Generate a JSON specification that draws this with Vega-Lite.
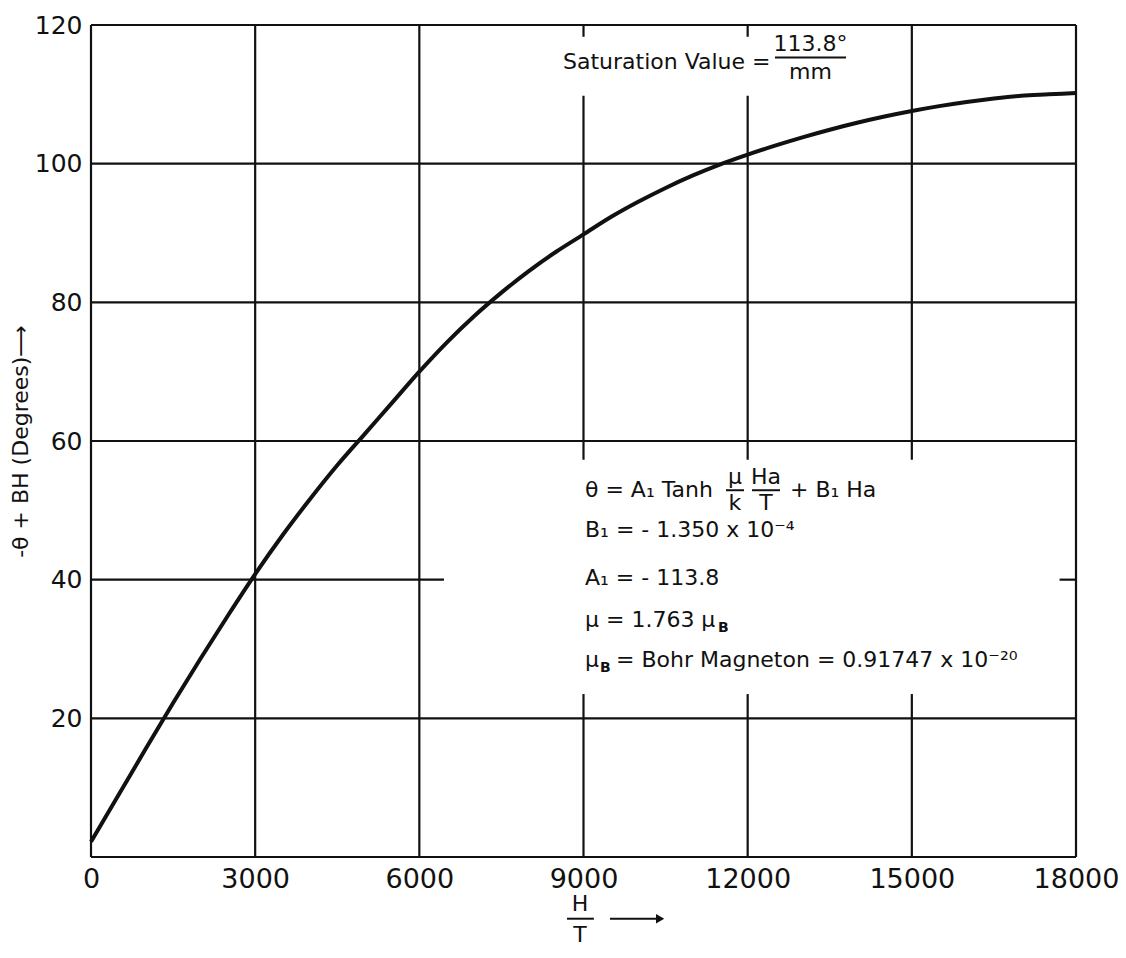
{
  "$schema": "https://vega.github.io/schema/vega-lite/v6.json",
  "width": 985,
  "height": 832,
  "autosize": {"type": "none"},
  "padding": {"left": 91, "top": 25, "right": 50, "bottom": 101},
  "background": "white",
  "config": {
    "view": {"stroke": null},
    "font": "DejaVu Sans",
    "text": {"font": "DejaVu Sans", "color": "#111"},
    "axis": {
      "domain": false, "ticks": false, "grid": false,
      "labelFontSize": 27, "labelColor": "#111", "labelPadding": 9,
      "labelFont": "DejaVu Sans", "labelFlush": false, "labelOverlap": false,
      "titleFontSize": 22, "titleFontWeight": "normal", "titleColor": "#111",
      "titleFont": "DejaVu Sans", "titlePadding": 2
    },
    "axisY": {"labelFontSize": 25}
  },
  "datasets": {
    "curve": [
      {"h": 0, "v": 2.2}, {"h": 500, "v": 8.9}, {"h": 1000, "v": 15.6}, {"h": 1500, "v": 22.2},
      {"h": 2000, "v": 28.6}, {"h": 2500, "v": 34.8}, {"h": 3000, "v": 40.8}, {"h": 3500, "v": 46.4},
      {"h": 4000, "v": 51.6}, {"h": 4500, "v": 56.5}, {"h": 5000, "v": 61.0}, {"h": 5500, "v": 65.5},
      {"h": 6000, "v": 70.0}, {"h": 6500, "v": 74.2}, {"h": 7000, "v": 78.0}, {"h": 7500, "v": 81.4},
      {"h": 8000, "v": 84.5}, {"h": 8500, "v": 87.3}, {"h": 9000, "v": 89.8}, {"h": 9500, "v": 92.3},
      {"h": 10000, "v": 94.5}, {"h": 10500, "v": 96.5}, {"h": 11000, "v": 98.3}, {"h": 11500, "v": 99.9},
      {"h": 12000, "v": 101.3}, {"h": 12500, "v": 102.6}, {"h": 13000, "v": 103.8}, {"h": 13500, "v": 104.9},
      {"h": 14000, "v": 105.9}, {"h": 14500, "v": 106.8}, {"h": 15000, "v": 107.6}, {"h": 15500, "v": 108.3},
      {"h": 16000, "v": 108.9}, {"h": 16500, "v": 109.4}, {"h": 17000, "v": 109.8}, {"h": 17500, "v": 110.0},
      {"h": 18000, "v": 110.2}
    ],
    "hlines": [
      {"y": 0, "x1": 0, "x2": 18000}, {"y": 20, "x1": 0, "x2": 18000},
      {"y": 40, "x1": 0, "x2": 6450}, {"y": 40, "x1": 17700, "x2": 18000},
      {"y": 60, "x1": 0, "x2": 18000}, {"y": 80, "x1": 0, "x2": 18000},
      {"y": 100, "x1": 0, "x2": 18000}, {"y": 120, "x1": 0, "x2": 18000}
    ],
    "vlines": [
      {"x": 0, "y1": 0, "y2": 120}, {"x": 3000, "y1": 0, "y2": 120}, {"x": 6000, "y1": 0, "y2": 120},
      {"x": 9000, "y1": 0, "y2": 23.5}, {"x": 9000, "y1": 57.3, "y2": 109.8}, {"x": 9000, "y1": 118.3, "y2": 120},
      {"x": 12000, "y1": 0, "y2": 23.5}, {"x": 12000, "y1": 57.3, "y2": 109.8}, {"x": 12000, "y1": 118.3, "y2": 120},
      {"x": 15000, "y1": 0, "y2": 23.5}, {"x": 15000, "y1": 57.3, "y2": 120},
      {"x": 18000, "y1": 0, "y2": 120}
    ],
    "textLeft": [
      {"x": 8625, "y": 114.7, "t": "Saturation Value ="},
      {"x": 9027, "y": 52.9, "t": "θ = A₁  Tanh"},
      {"x": 12773, "y": 52.9, "t": "+ B₁ Ha"},
      {"x": 9027, "y": 47.2, "t": "B₁ = - 1.350 x 10⁻⁴"},
      {"x": 9027, "y": 40.2, "t": "A₁ = - 113.8"},
      {"x": 9027, "y": 34.2, "t": "μ  = 1.763 μ"},
      {"x": 9027, "y": 28.4, "t": "μ"},
      {"x": 9594, "y": 28.4, "t": "= Bohr Magneton = 0.91747 x 10⁻²⁰"}
    ],
    "textCenter": [
      {"x": 13148, "y": 117.2, "t": "113.8°"},
      {"x": 13148, "y": 113.2, "t": "mm"},
      {"x": 11768, "y": 54.8, "t": "μ"},
      {"x": 11768, "y": 51.0, "t": "k"},
      {"x": 12335, "y": 54.8, "t": "Ha"},
      {"x": 12335, "y": 51.0, "t": "T"},
      {"x": 8936, "y": -6.8, "t": "H"},
      {"x": 8936, "y": -11.2, "t": "T"}
    ],
    "textSub": [
      {"x": 11458, "y": 33.0, "t": "B"},
      {"x": 9301, "y": 27.3, "t": "B"}
    ],
    "bars": [
      {"x1": 12499, "x2": 13797, "y": 115.3},
      {"x1": 11604, "x2": 11933, "y": 52.9},
      {"x1": 12079, "x2": 12591, "y": 52.9},
      {"x1": 8698, "x2": 9190, "y": -8.9},
      {"x1": 9484, "x2": 10350, "y": -8.9}
    ],
    "arrowHead": [{"x": 10400, "y": -8.9}]
  },
  "layer": [
    {
      "data": {"name": "curve"},
      "mark": {"type": "line", "color": "#111", "strokeWidth": 4, "interpolate": "monotone"},
      "encoding": {
        "x": {
          "field": "h", "type": "quantitative",
          "scale": {"domain": [0, 18000], "nice": false, "zero": false},
          "axis": {"values": [0, 3000, 6000, 9000, 12000, 15000, 18000], "format": "d", "title": null}
        },
        "y": {
          "field": "v", "type": "quantitative",
          "scale": {"domain": [0, 120], "nice": false, "zero": false},
          "axis": {"values": [20, 40, 60, 80, 100, 120], "title": "-θ + BH (Degrees)⟶"}
        }
      }
    },
    {
      "data": {"name": "hlines"},
      "mark": {"type": "rule", "color": "#111", "strokeWidth": 2.2},
      "encoding": {
        "x": {"field": "x1", "type": "quantitative"},
        "x2": {"field": "x2"},
        "y": {"field": "y", "type": "quantitative"}
      }
    },
    {
      "data": {"name": "vlines"},
      "mark": {"type": "rule", "color": "#111", "strokeWidth": 2.2},
      "encoding": {
        "x": {"field": "x", "type": "quantitative"},
        "y": {"field": "y1", "type": "quantitative"},
        "y2": {"field": "y2"}
      }
    },
    {
      "data": {"name": "textLeft"},
      "mark": {"type": "text", "align": "left", "baseline": "middle", "fontSize": 22, "color": "#111"},
      "encoding": {
        "x": {"field": "x", "type": "quantitative"},
        "y": {"field": "y", "type": "quantitative"},
        "text": {"field": "t"}
      }
    },
    {
      "data": {"name": "textCenter"},
      "mark": {"type": "text", "align": "center", "baseline": "middle", "fontSize": 22, "color": "#111"},
      "encoding": {
        "x": {"field": "x", "type": "quantitative"},
        "y": {"field": "y", "type": "quantitative"},
        "text": {"field": "t"}
      }
    },
    {
      "data": {"name": "textSub"},
      "mark": {"type": "text", "align": "left", "baseline": "middle", "fontSize": 14, "fontWeight": "bold", "color": "#111"},
      "encoding": {
        "x": {"field": "x", "type": "quantitative"},
        "y": {"field": "y", "type": "quantitative"},
        "text": {"field": "t"}
      }
    },
    {
      "data": {"name": "bars"},
      "mark": {"type": "rule", "color": "#111", "strokeWidth": 2},
      "encoding": {
        "x": {"field": "x1", "type": "quantitative"},
        "x2": {"field": "x2"},
        "y": {"field": "y", "type": "quantitative"}
      }
    },
    {
      "data": {"name": "arrowHead"},
      "mark": {"type": "point", "shape": "triangle-right", "filled": true, "color": "#111", "size": 90, "opacity": 1},
      "encoding": {
        "x": {"field": "x", "type": "quantitative"},
        "y": {"field": "y", "type": "quantitative"}
      }
    }
  ]
}
